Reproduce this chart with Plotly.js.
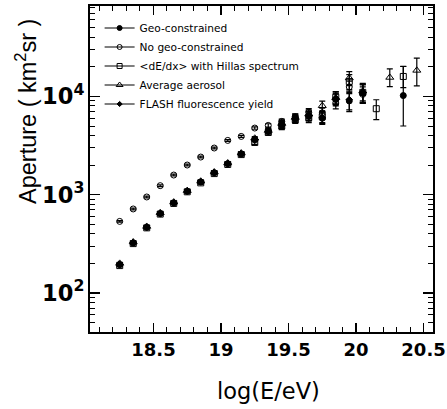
<!DOCTYPE html>
<html><head><meta charset="utf-8">
<script src="https://cdn.plot.ly/plotly-3.0.1.min.js"></script>
<style>html,body{margin:0;padding:0;background:#fff;}#c{width:447px;height:409px;}</style>
</head><body><div id="c"></div>
<script>
var logE = [18.25,18.35,18.45,18.55,18.65,18.75,18.85,18.95,19.05,19.15,19.25,19.35,19.45,19.55,19.65,19.75,19.85,19.95,20.05,20.15,20.25,20.35,20.45];

var geo      = [194,323,465,641,824,1081,1347,1670,2065,2594,3620,4400,5100,5900,6300,6000,9300,9000,10800,null,null,10200,null];
var geoUp    = [5,8,11,15,20,28,36,45,60,80,150,250,400,500,700,800,1300,2000,2300,null,null,10000,null];
var geoDn    = [5,8,11,15,20,28,36,45,60,80,150,250,400,500,700,800,1300,2000,2300,null,null,5200,null];

var noGeo    = [535,716,948,1236,1585,2004,2416,2985,3567,3917,4766,5070,5570,6200,6900,6800,8570,12500,10500,null,null,null,null];
var noGeoErr = [10,14,18,25,32,40,50,60,75,90,130,200,300,450,600,800,1100,1800,2000,null,null,null,null];

var hillas   = [190,318,460,635,815,1070,1320,1640,2030,2560,3400,4300,5000,5800,6100,6200,9800,14200,11000,7500,null,15960,null];
var hillasUp = [5,8,11,15,20,28,36,45,60,80,150,250,400,500,700,800,1400,2500,2300,1750,null,4200,null];
var hillasDn = [5,8,11,15,20,28,36,45,60,80,150,250,400,500,700,800,1400,2500,2300,1700,null,3700,null];

var aerosol  = [200,330,475,655,840,1100,1370,1700,2100,2650,3750,4500,5300,6100,6600,8040,9700,15400,11300,null,15600,null,18400];
var aeroUp   = [5,8,11,15,20,28,36,45,60,80,150,250,400,500,700,900,1400,2500,2300,null,3500,null,6100];
var aeroDn   = [5,8,11,15,20,28,36,45,60,80,150,250,400,500,700,900,1400,2500,2300,null,3000,null,5600];

var flash    = [196,326,468,645,830,1090,1355,1680,2080,2610,3650,4450,5150,5950,6400,6100,9500,9300,11000,null,null,null,null];
var flashErr = [5,8,11,15,20,28,36,45,60,80,150,250,400,500,700,800,1300,2000,2300,null,null,null,null];

var names = ["Geo-constrained","No geo-constrained","<dE/dx> with Hillas spectrum","Average aerosol","FLASH fluorescence yield"];
var symbols = ["circle","circle-open","square-open","triangle-up-open","diamond"];
var sizes = [6,6,6,7,5];
var xTitle = "log(E/eV)";
var yTitle = "Aperture ( km<sup>2</sup>sr )";

var XR = [18.03,20.57], YR = [1.603,4.92];

var series = [[geo,geoUp,geoDn],[noGeo,noGeoErr,noGeoErr],[hillas,hillasUp,hillasDn],[aerosol,aeroUp,aeroDn],[flash,flashErr,flashErr]];
var order = [1,2,3,4,0];
var traces = [];
order.forEach(function(i){
  var s = series[i];
  traces.push({x:logE, y:s[0], type:'scatter', mode:'markers', showlegend:false,
    marker:{symbol:symbols[i], size:sizes[i], color:'black', line:{color:'black', width:1}},
    error_y:{type:'data', symmetric:false, array:s[1], arrayminus:s[2], color:'black', thickness:1.2, width:3},
    cliponaxis:false});
});
for (var i=0;i<names.length;i++){
  traces.push({x:[null], y:[null], type:'scatter', mode:'lines+markers', name:names[i],
    line:{color:'black', width:1.2},
    marker:{symbol:symbols[i], size:sizes[i]-1, color:'black', line:{color:'black', width:1}}});
}

var tickFont = {size:18, weight:'bold', family:'DejaVu Sans, sans-serif', color:'black'};
var layout = {
  width:447, height:409,
  margin:{l:90, r:14, t:6, b:77},
  paper_bgcolor:'white', plot_bgcolor:'white',
  font:{family:'DejaVu Sans, sans-serif', color:'black'},
  showlegend:true,
  legend:{x:0.028, y:0.977, xanchor:'left', yanchor:'top', bgcolor:'rgba(0,0,0,0)',
    font:{size:10.6, family:'DejaVu Sans, sans-serif'}, tracegroupgap:0},
  xaxis:{range:XR, showline:true, linecolor:'black', linewidth:2, mirror:'ticks',
    tickmode:'linear', tick0:18.5, dtick:0.5,
    ticks:'inside', ticklen:9, tickwidth:1.2, tickcolor:'black',
    showgrid:false, zeroline:false, tickfont:tickFont,
    minor:{tick0:18, dtick:0.1, ticks:'inside', ticklen:5, tickwidth:1, tickcolor:'black', showgrid:false}},
  yaxis:{type:'log', range:YR, showline:true, linecolor:'black', linewidth:2, mirror:'ticks',
    tickmode:'linear', tick0:0, dtick:1, exponentformat:'power', showexponent:'all',
    ticks:'inside', ticklen:10, tickwidth:1.2, tickcolor:'black',
    showgrid:false, zeroline:false, tickfont:tickFont,
    minor:{dtick:'D1', ticks:'inside', ticklen:5, tickwidth:1, tickcolor:'black', showgrid:false}},
  annotations:[
    {text:xTitle, xref:'paper', yref:'paper', x:(268-90)/343, y:-(391-332)/326, xanchor:'center', yanchor:'middle',
      showarrow:false, font:{size:22.5, family:'DejaVu Sans, sans-serif'}},
    {text:yTitle, xref:'paper', yref:'paper', x:(26-90)/343, y:1-(112-6)/326, xanchor:'center', yanchor:'middle',
      textangle:-90, showarrow:false, font:{size:23.5, family:'Liberation Sans, Arial, sans-serif'}}
  ]
};
Plotly.newPlot('c', traces, layout, {displayModeBar:false, staticPlot:true});
</script></body></html>
